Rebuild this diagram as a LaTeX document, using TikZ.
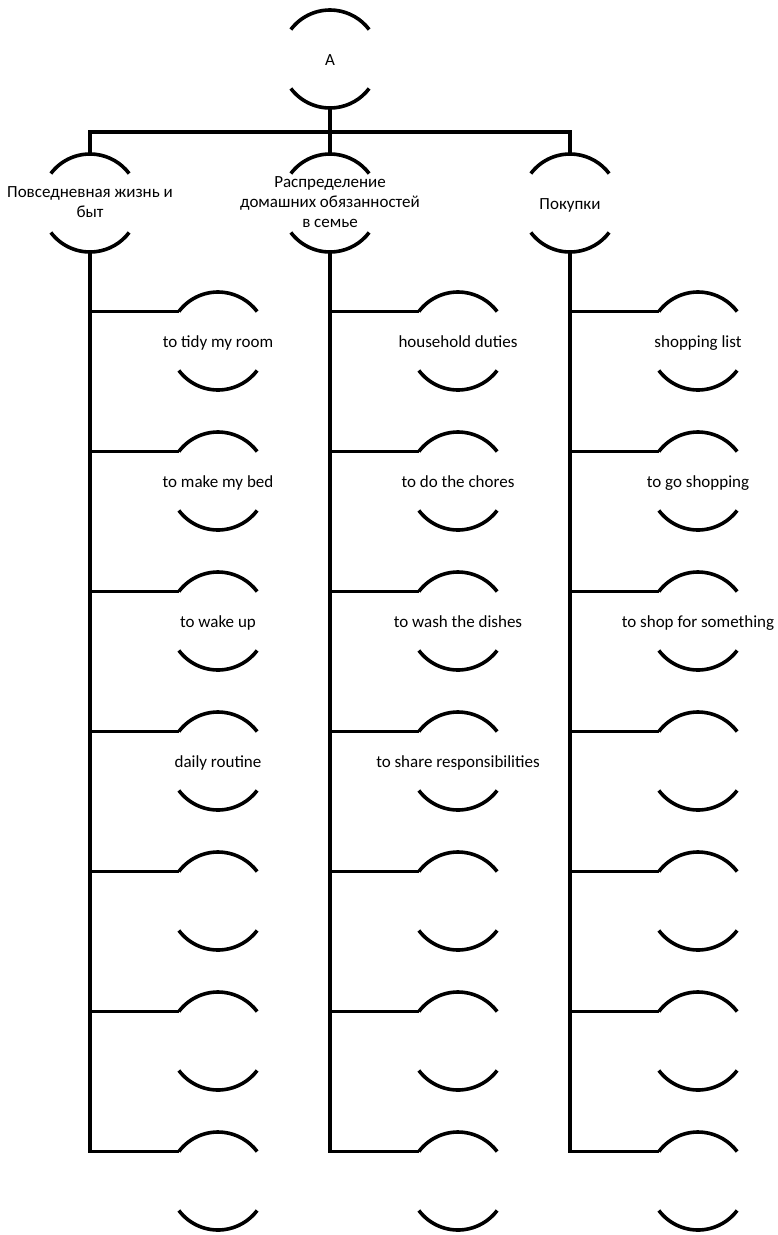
\documentclass[tikz,border=0pt]{standalone}
\usepackage{fontspec}
\setmainfont{Carlito}
\begin{document}
\begin{tikzpicture}[x=1pt,y=-1pt,line width=3.6pt,
  txt/.style={inner sep=0pt,align=center,font=\fontsize{17}{20}\selectfont,yshift=-2pt,
    execute at begin node=\strut, execute at end node=\strut}]
\useasboundingbox (0,0) rectangle (778,1235);
\newcommand\bnode[4]{%
  \coordinate (#1-c) at ({#2},{#3});
  \node[txt] (#1) at (#1-c) {#4};
  \draw ([shift={(143:49pt)}]#1-c) arc[start angle=143,end angle=37,radius=49pt];
  \draw ([shift={(217:49pt)}]#1-c) arc[start angle=217,end angle=323,radius=49pt];
  \coordinate (#1-tl) at ([shift={(143:49pt)}]#1-c);
  \coordinate (#1-t) at ([shift={(90:49pt)}]#1-c);
  \coordinate (#1-b) at ([shift={(270:49pt)}]#1-c);
}
% root
\bnode{A}{330}{59}{A}
% level 1
\bnode{p1}{90}{203}{Повседневная жизнь и\\быт}
\bnode{p2}{330}{203}{Распределение\\домашних обязанностей\\в семье}
\bnode{p3}{570}{203}{Покупки}
\coordinate (bar) at (330,132);
\draw (A-b) -- (p2-t);
\draw (p1-t) |- (bar) -| (p3-t);
% leaves
\foreach \k/\t in {1/to tidy my room,2/to make my bed,3/to wake up,4/daily routine,5/,6/,7/}{
  \bnode{a\k}{218}{341+140*(\k-1)}{\t}
}
\foreach \k/\t in {1/household duties,2/to do the chores,3/to wash the dishes,4/to share responsibilities,5/,6/,7/}{
  \bnode{b\k}{458}{341+140*(\k-1)}{\t}
}
\foreach \k/\t in {1/shopping list,2/to go shopping,3/to shop for something,4/,5/,6/,7/}{
  \bnode{c\k}{698}{341+140*(\k-1)}{\t}
}
\draw[line join=miter] (p1-b) |- (a7-tl);
\draw[line join=miter] (p2-b) |- (b7-tl);
\draw[line join=miter] (p3-b) |- (c7-tl);
\foreach \k in {1,...,6}{
  \draw (p1-b |- a\k-tl) -- (a\k-tl);
  \draw (p2-b |- b\k-tl) -- (b\k-tl);
  \draw (p3-b |- c\k-tl) -- (c\k-tl);
}
\end{tikzpicture}
\end{document}
